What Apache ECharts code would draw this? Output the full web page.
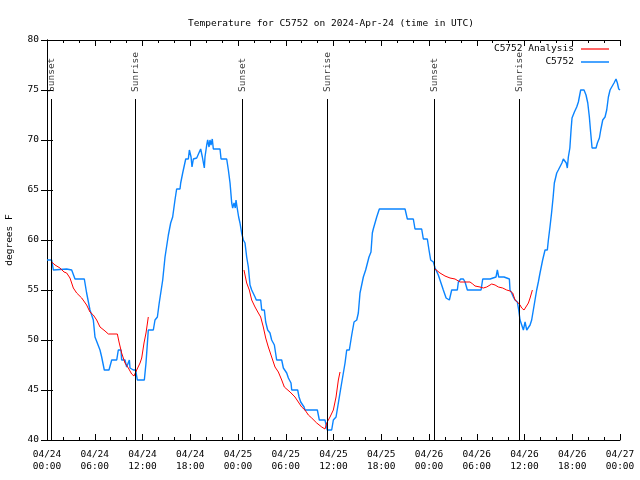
<!DOCTYPE html>
<html><head><meta charset="utf-8">
<script src="https://cdn.jsdelivr.net/npm/echarts@6/dist/echarts.min.js"></script>
<style>html,body{margin:0;padding:0;background:#fff}#c{width:640px;height:480px}</style>
</head><body><div id="c"></div>
<script>
const FONT = 'DejaVu Sans Mono';
const titleText = 'Temperature for C5752 on 2024-Apr-24 (time in UTC)';
const xTickLabels = ['04/24\n00:00','04/24\n06:00','04/24\n12:00','04/24\n18:00',
  '04/25\n00:00','04/25\n06:00','04/25\n12:00','04/25\n18:00',
  '04/26\n00:00','04/26\n06:00','04/26\n12:00','04/26\n18:00','04/27\n00:00'];
const sunHours = [0.59, 11.15, 24.54, 35.22, 48.67, 59.35];
const sunLabels = ['Sunset','Sunrise','Sunset','Sunrise','Sunset','Sunrise'];

// C5752 observations (hours since 04/24 00:00 UTC, deg F)
const obsHours = [0,0.59,0.8,2.47,3.1,3.52,4.69,4.98,5.4,5.82,6.03,6.66,6.87,7.2,7.79,8.13,8.76,8.96,9.3,9.38,9.8,10.01,10.35,10.43,10.85,11.14,11.35,12.23,12.44,12.73,13.36,13.57,13.87,14.1,14.54,14.83,15.25,15.54,15.79,16.08,16.29,16.71,16.8,17.05,17.43,17.76,17.89,18.1,18.22,18.39,18.81,19.14,19.31,19.52,19.77,19.85,20.07,20.19,20.36,20.48,20.61,20.77,20.9,21.74,21.87,22.58,22.79,23.0,23.21,23.33,23.5,23.66,23.75,23.88,24.08,24.25,24.46,24.67,24.88,25.09,25.3,25.51,25.72,25.85,26.14,26.3,26.85,26.98,27.31,27.48,27.73,28.02,28.23,28.57,28.86,29.49,29.7,30.12,30.33,30.66,30.75,31.5,31.67,31.88,32.3,32.42,33.97,34.22,34.93,35.22,35.77,35.98,36.32,36.61,36.94,37.45,37.66,37.99,38.29,38.58,38.92,39.12,39.33,39.75,40.04,40.25,40.46,40.71,40.88,41.0,41.22,41.43,41.76,44.99,45.28,46.03,46.24,47.08,47.29,47.79,48.0,48.21,48.55,48.76,48.97,49.17,49.38,49.59,49.8,50.15,50.25,50.56,50.85,51.56,51.69,51.98,52.32,52.53,52.82,54.54,54.75,55.67,55.88,56.42,56.59,56.76,57.43,57.68,58.1,58.18,58.39,58.6,58.81,59.1,59.27,59.44,59.65,59.86,60.07,60.28,60.49,60.7,60.9,61.11,61.32,61.53,61.74,61.95,62.28,62.58,62.87,63.0,63.2,63.4,63.6,63.75,64.05,64.25,64.46,64.7,64.88,65.05,65.25,65.38,65.51,65.7,65.85,65.97,66.27,66.56,66.77,67.06,67.48,67.73,67.95,68.15,68.32,68.49,68.99,69.16,69.41,69.58,69.83,70.12,70.33,70.54,70.75,70.96,71.25,71.5,71.67,71.84,72.0];
const obsTemps = [58,58,57,57.1,57,56.1,56.1,54.7,53,52,50.3,49,48.3,47,47,48,48,49,49,48,48,47.3,48,47.2,47,47,46,46,47.7,51,51,52,52.3,53.7,56,58.3,60.5,61.7,62.3,64,65.1,65.1,65.7,66.7,68.1,68.1,69,68.3,67.3,68.1,68.2,68.8,69.1,68.3,67.2,68.3,69.5,70,69.3,70,69.5,70.1,69.1,69.1,68.1,68.1,67,65.7,63.7,63.2,63.7,63.2,64,63.3,62.3,61.7,60.7,60,59.7,58.3,57.3,55.5,55,55,54.3,54,54,53,53,51.8,51,50.7,50,49.5,48,48,47.2,46.7,46.2,45.7,45,45,44.3,43.8,43.3,43,43,42,42,41,41,42,42.3,43.7,45.3,47.7,49,49,50.5,51.8,52,52.7,54.7,56.3,57,57,58.3,58.8,60.7,61.1,61.1,62.3,63.1,63.1,62.1,62.1,61.1,61.1,60.1,60.1,59,58,57.8,57.2,57,56.5,56,56,55,54.2,54,54,55,55,55.8,56.1,56.1,55.8,55,55,56.1,56.1,56.3,56.3,57,56.3,56.3,56.1,56.1,55,54.7,54.3,54,53.8,53,52,51.8,51,51.8,51,51,51.5,52,53,54,55,55.8,56.7,58,59,59,60,61.3,62.7,64.3,65.7,66.7,67,67.2,67.7,68.1,68,67.7,67.2,68.3,69.2,71,72.2,72.8,73.3,73.8,75,75,74.5,73.7,72.3,70.7,69.2,69.2,69.7,70.2,71,72,72.3,73,74.3,75,75.3,75.7,76.1,75.7,75.1,75];

// C5752 Analysis (null = gap between runs)
const anaHours = [0.59,1.01,1.63,2.14,2.47,2.89,3.31,3.73,4.36,4.98,5.4,5.82,6.24,6.66,7.29,7.71,8.84,9.05,9.38,9.8,10.22,10.64,10.93,11.27,11.69,11.9,12.19,12.44,12.73,null,
  24.75,25.09,25.42,25.72,26.14,26.56,26.85,27.18,27.48,27.81,28.23,28.65,29.07,29.49,29.82,30.54,31.16,31.58,32.0,32.42,32.84,33.26,33.89,34.52,34.93,35.15,35.56,35.98,36.32,36.61,36.82,null,
  48.76,49.38,50.01,50.64,51.27,51.9,52.53,53.15,53.5,53.78,54.41,54.83,55.25,55.88,56.3,56.72,57.26,57.76,58.18,58.52,58.81,59.1,59.44,59.65,59.94,60.19,60.49,60.7,60.99];
const anaTemps = [57.8,57.5,57.2,56.8,56.7,56.2,55.2,54.7,54.2,53.5,52.8,52.5,52,51.3,50.9,50.6,50.6,49.8,48.7,47.7,47.2,46.6,46.4,47,47.7,48.2,49.7,50.7,52.3,null,
  57,55.7,55,54,53.3,52.7,52.3,51.3,50.2,49.3,48.3,47.3,46.8,46,45.3,44.8,44.3,43.8,43.3,43,42.5,42.2,41.7,41.3,41.1,41.7,42.3,43,44.3,46,46.8,null,
  57.1,56.7,56.4,56.2,56.1,55.8,55.8,55.8,55.6,55.4,55.3,55.2,55.3,55.6,55.5,55.3,55.2,55,54.9,54.7,54,53.8,53.5,53.2,53,53,53.7,54.2,55];

const BLUE = '#0a84ff', RED = '#ff0000';

function zip(hs, vs) { return hs.map((h, i) => [h, vs[i]]); }
function segments(hs, vs) {
  const out = []; let cur = [];
  hs.forEach((h, i) => {
    if (h === null || vs[i] === null) { if (cur.length) out.push(cur); cur = []; }
    else cur.push([h, vs[i]]);
  });
  if (cur.length) out.push(cur);
  return out;
}

const chart = echarts.init(document.getElementById('c'), null, {renderer: 'canvas'});
const FS = 9.5;
const txt = {fontFamily: FONT, fontSize: FS, color: '#000'};

const anaSeries = segments(anaHours, anaTemps).map(seg => ({
  name: 'C5752 Analysis', type: 'line', data: seg, showSymbol: false, symbol: 'none',
  lineStyle: {color: RED, width: 1}, itemStyle: {color: RED}, z: 3, silent: true
}));

const axisLineStyle = {show: true, lineStyle: {color: '#000', width: 1}};
const option = {
  animation: false,
  backgroundColor: '#fff',
  title: {text: titleText, left: 183, top: 14, textAlign: 'left',
    textStyle: {fontFamily: FONT, fontSize: FS, fontWeight: 'normal', color: '#000'}},
  legend: [
    {data: ['C5752 Analysis'], right: 31, top: 44, padding: 0, align: 'right', icon: 'rect',
      itemWidth: 28, itemHeight: 1.2, itemGap: 0, textStyle: Object.assign({padding: [0, 2, 0, 0]}, txt), itemStyle: {color: RED}},
    {data: ['C5752'], right: 31, top: 57, padding: 0, align: 'right', icon: 'rect',
      itemWidth: 28, itemHeight: 1.5, itemGap: 0, textStyle: Object.assign({padding: [0, 2, 0, 0]}, txt), itemStyle: {color: BLUE}}
  ],
  grid: {left: 47, right: 20, top: 40, bottom: 40, containLabel: false, outerBoundsMode: 'none', show: false},
  xAxis: [
    {type: 'value', min: 0, max: 72, interval: 6, position: 'bottom',
      axisLine: axisLineStyle, splitLine: {show: false},
      axisTick: {show: true, inside: true, length: 6, lineStyle: {color: '#000'}},
      minorTick: {show: true, splitNumber: 3, length: 3, lineStyle: {color: '#000'}},
      axisLabel: Object.assign({margin: 9, lineHeight: 12, showMinLabel: true, showMaxLabel: true,
        hideOverlap: false, formatter: v => xTickLabels[Math.round(v / 6)]}, txt)},
    {type: 'value', min: 0, max: 72, interval: 6, position: 'top',
      axisLine: axisLineStyle, splitLine: {show: false},
      axisTick: {show: true, inside: true, length: 6, lineStyle: {color: '#000'}},
      minorTick: {show: true, splitNumber: 3, length: 3, lineStyle: {color: '#000'}},
      axisLabel: {show: false}}
  ],
  yAxis: [
    {type: 'value', min: 40, max: 80, interval: 5, position: 'left',
      name: 'degrees F', nameLocation: 'middle', nameGap: 32, nameRotate: 90,
      nameTextStyle: txt,
      axisLine: axisLineStyle, splitLine: {show: false},
      axisTick: {show: true, inside: true, length: 6, lineStyle: {color: '#000'}},
      axisLabel: Object.assign({margin: 8}, txt)},
    {type: 'value', min: 40, max: 80, interval: 5, position: 'right',
      axisLine: axisLineStyle, splitLine: {show: false},
      axisTick: {show: true, inside: true, length: 6, lineStyle: {color: '#000'}},
      axisLabel: {show: false}}
  ],
  series: [
    {name: 'C5752', type: 'line', data: zip(obsHours, obsTemps), showSymbol: false, symbol: 'none',
      lineStyle: {color: BLUE, width: 1.4}, itemStyle: {color: BLUE}, z: 2, silent: true}
  ].concat(anaSeries).concat([
    {name: 'sun', type: 'scatter', symbolSize: 0, z: 5, silent: true,
      data: sunHours.map((h, i) => [h, 74.8, sunLabels[i]]),
      label: {show: true, position: 'inside', rotate: 90, align: 'left', verticalAlign: 'middle',
        offset: [0, 0],
        formatter: p => p.value[2], fontFamily: FONT, fontSize: FS, color: '#000'},
      markLine: {silent: true, symbol: 'none', animation: false,
        lineStyle: {color: '#000', width: 1, type: 'solid'}, label: {show: false},
        data: sunHours.map(h => [{coord: [h, 74.1]}, {coord: [h, 40]}])}
    }
  ])
};
chart.setOption(option);
</script>
</body></html>
